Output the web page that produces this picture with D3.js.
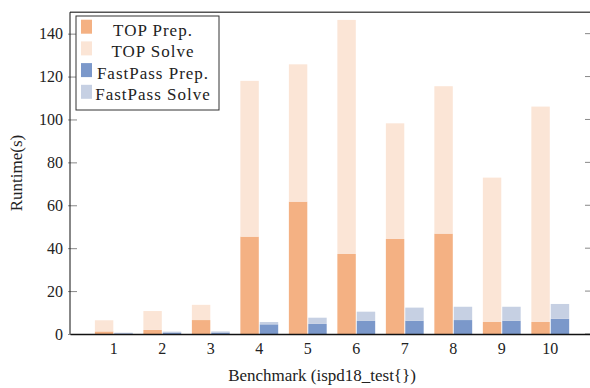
<!DOCTYPE html>
<html>
<head>
<meta charset="utf-8">
<script src="https://cdn.jsdelivr.net/npm/d3@7"></script>
<style>
  body { margin: 0; background: #fff; }
  text { font-family: "Liberation Serif", "DejaVu Serif", serif; fill: #222; }
</style>
</head>
<body>
<svg id="chart" width="590" height="388"></svg>
<script>
// benchmarks ispd18_test1..10
const benchmarks = [1, 2, 3, 4, 5, 6, 7, 8, 9, 10];
const topPrep   = [1.2, 1.9, 6.5, 45.4, 61.7, 37.3, 44.3, 46.8, 5.6, 5.6];
const topSolve  = [5.2, 8.8, 7.1, 72.6, 64.0, 109.1, 53.9, 68.7, 67.3, 100.4];
const fpPrep    = [0.3, 0.7, 0.7, 4.5, 4.7, 6.1, 6.2, 6.5, 6.2, 7.1];
const fpSolve   = [0.3, 0.4, 0.5, 1.1, 2.9, 4.3, 6.1, 6.2, 6.5, 6.9];
const yTicks = [0, 20, 40, 60, 80, 100, 120, 140];
const legendLabels = ['TOP Prep.', 'TOP Solve', 'FastPass Prep.', 'FastPass Solve'];
const colors = ['#f4b183', '#fbe5d6', '#7b98ca', '#c6d0e3'];

const plotL = 70, plotR = 591, plotT = 12.2, plotB = 334;

const svg = d3.select('#chart');

const x = d3.scaleLinear()
    .domain([0.107, 10.85])
    .range([plotL, plotR]);

const y = d3.scaleLinear()
    .domain([0, 150])
    .range([plotB, plotT]);

// bars: TOP left of the tick, FastPass right of it
const groups = [
    { prep: topPrep, solve: topSolve, x0: -0.38, x1: 0, c: 0 },
    { prep: fpPrep, solve: fpSolve, x0: 0.02, x1: 0.4, c: 2 }
];

groups.forEach(g => {
    benchmarks.forEach((b, i) => {
        const p = g.prep[i], s = g.solve[i];
        svg.append('rect')
            .attr('x', x(b + g.x0))
            .attr('width', x(b + g.x1) - x(b + g.x0))
            .attr('y', y(p))
            .attr('height', y(0) - y(p))
            .attr('fill', colors[g.c]);
        svg.append('rect')
            .attr('x', x(b + g.x0))
            .attr('width', x(b + g.x1) - x(b + g.x0))
            .attr('y', y(p + s))
            .attr('height', y(p) - y(p + s))
            .attr('fill', colors[g.c + 1]);
    });
});

// frame
svg.append('line')
    .attr('x1', plotL).attr('x2', plotR).attr('y1', plotT).attr('y2', plotT)
    .attr('stroke', '#555').attr('stroke-width', 1.5);
svg.append('line')
    .attr('x1', plotR).attr('x2', plotR).attr('y1', plotT).attr('y2', plotB)
    .attr('stroke', '#555');

// y axis
const yAxis = svg.append('g')
    .attr('transform', 'translate(' + plotL + ',0)')
    .call(d3.axisLeft(y).tickValues(yTicks).tickSize(-7).tickPadding(7));
yAxis.select('.domain').remove();
yAxis.selectAll('.tick line').attr('stroke', '#888').attr('x1', -2);
yAxis.selectAll('.tick text')
    .style('font-family', '"Liberation Serif", serif')
    .style('font-size', '16px')
    .attr('fill', '#222');

svg.append('g').selectAll('line').data(yTicks).enter().append('line')
    .attr('x1', plotR - 6).attr('x2', plotR)
    .attr('y1', d => y(d)).attr('y2', d => y(d))
    .attr('stroke', '#888');

svg.append('line')
    .attr('x1', plotL).attr('x2', plotL).attr('y1', plotT).attr('y2', plotB)
    .attr('stroke', '#111');

// x axis
const xAxis = svg.append('g')
    .attr('transform', 'translate(0,' + plotB + ')')
    .call(d3.axisBottom(x).tickValues(benchmarks).tickSize(0).tickPadding(9).tickFormat(d3.format('d')));
xAxis.select('.domain').attr('stroke', '#111').attr('stroke-width', 1.5);
xAxis.selectAll('.tick text')
    .style('font-family', '"Liberation Serif", serif')
    .style('font-size', '16px')
    .attr('fill', '#222');

// axis labels
svg.append('text')
    .attr('x', 322)
    .attr('y', 381)
    .attr('text-anchor', 'middle')
    .style('font-size', '17px')
    .text('Benchmark (ispd18_test{})');

svg.append('text')
    .attr('transform', 'translate(22,173) rotate(-90)')
    .attr('text-anchor', 'middle')
    .style('font-size', '17px')
    .text('Runtime(s)');

// legend
const legend = svg.append('g');
legend.append('rect')
    .attr('x', 76).attr('y', 16)
    .attr('width', 143).attr('height', 94)
    .attr('fill', '#fff')
    .attr('stroke', '#333').attr('stroke-width', 1);

legendLabels.forEach((lab, i) => {
    legend.append('rect')
        .attr('x', 81).attr('y', 19.7 + i * 21.7)
        .attr('width', 11).attr('height', 14)
        .attr('fill', colors[i]);
    legend.append('text')
        .attr('x', 153).attr('y', 35.5 + i * 21.5)
        .attr('text-anchor', 'middle')
        .style('font-size', '17px')
        .style('letter-spacing', '1px')
        .text(lab);
});
</script>
</body>
</html>
